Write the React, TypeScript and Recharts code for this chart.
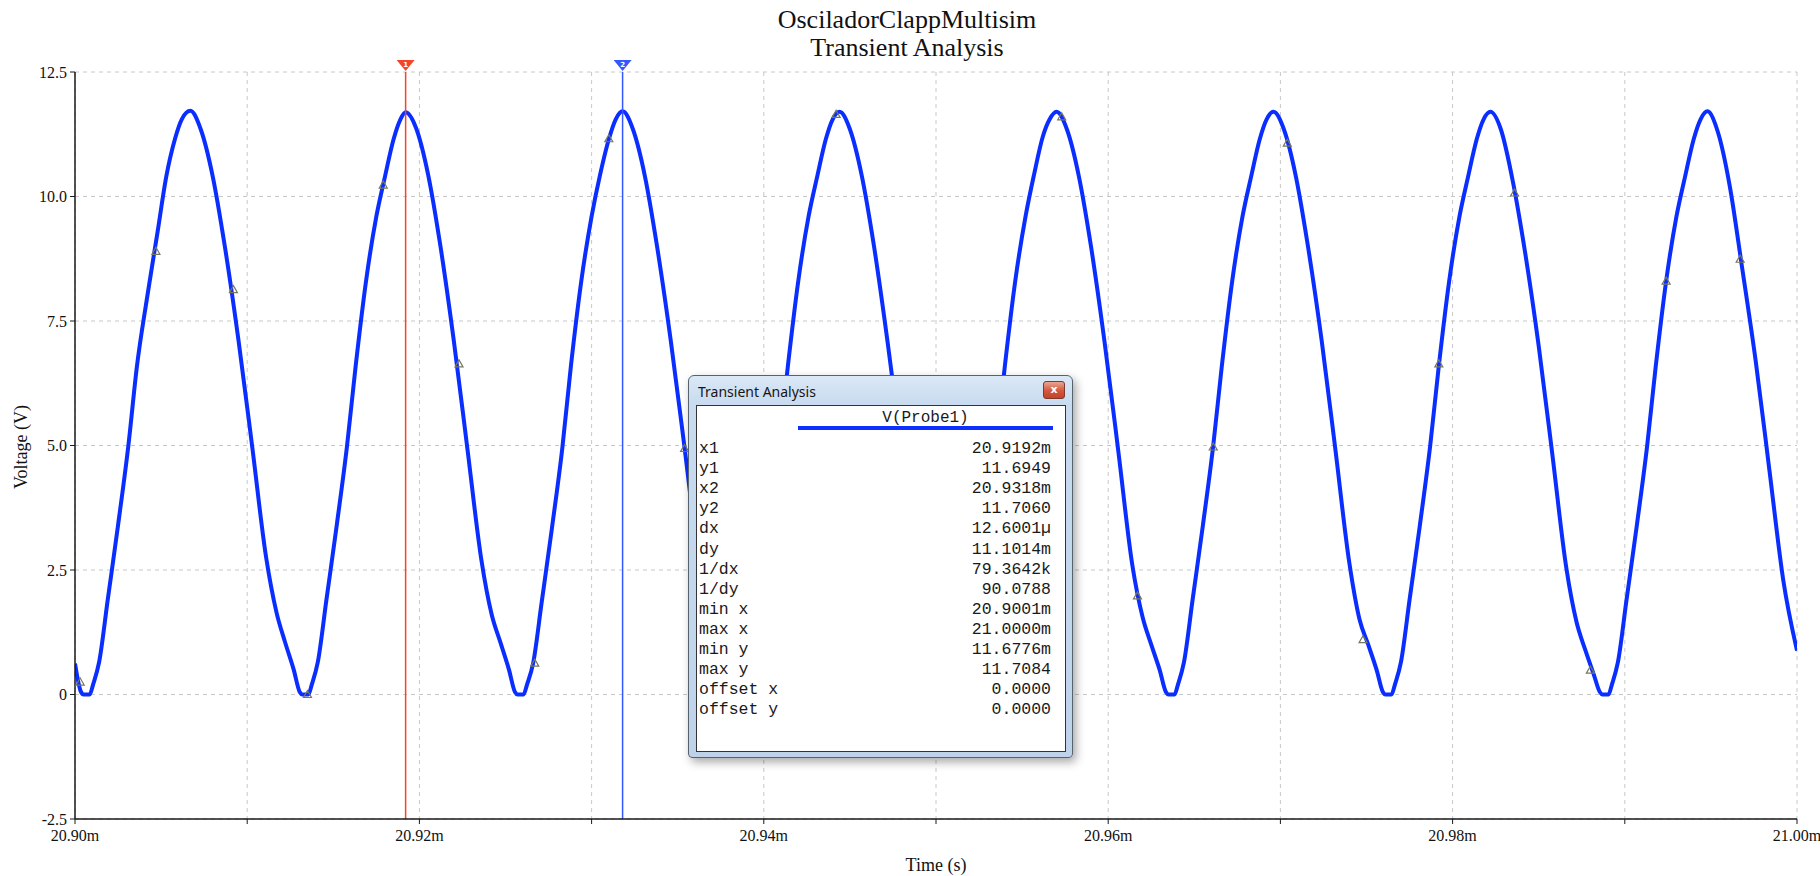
import React from 'react';
import {
  ComposedChart,
  Line,
  Scatter,
  XAxis,
  YAxis,
  CartesianGrid,
  ReferenceLine,
} from 'recharts';

// time in microseconds after 20.90 ms, voltage of V(Probe1) in volts
const timeUs = [
  0, 0.35, 0.5, 0.85, 1.05, 1.4, 1.9, 2.5, 3.1, 3.6, 4.2, 4.8, 5.3, 5.8, 6.2, 6.7,
  7.3, 8.0, 8.7, 9.5, 10.3, 11.1, 11.7, 12.2, 12.7, 13.05, 13.2, 13.55, 13.75, 14.1, 14.6, 15.2, 15.8, 16.3, 16.9, 17.5, 18.0, 18.5, 18.9, 19.2,
  19.8, 20.5, 21.2, 22.0, 22.8, 23.6, 24.2, 24.7, 25.2, 25.55, 25.7, 26.05, 26.25, 26.6, 27.1, 27.7, 28.3, 28.8, 29.4, 30.0, 30.5, 31.0, 31.4, 31.8,
  32.4, 33.1, 33.8, 34.6, 35.4, 36.2, 36.8, 37.3, 37.8, 38.15, 38.3, 38.65, 38.85, 39.2, 39.7, 40.3, 40.9, 41.4, 42.0, 42.6, 43.1, 43.6, 44.0, 44.4,
  45.0, 45.7, 46.4, 47.2, 48.0, 48.8, 49.4, 49.9, 50.4, 50.75, 50.9, 51.25, 51.45, 51.8, 52.3, 52.9, 53.5, 54.0, 54.6, 55.2, 55.7, 56.2, 56.6, 57.0,
  57.6, 58.3, 59.0, 59.8, 60.6, 61.4, 62.0, 62.5, 63.0, 63.35, 63.5, 63.85, 64.05, 64.4, 64.9, 65.5, 66.1, 66.6, 67.2, 67.8, 68.3, 68.8, 69.2, 69.6,
  70.2, 70.9, 71.6, 72.4, 73.2, 74.0, 74.6, 75.1, 75.6, 75.95, 76.1, 76.45, 76.65, 77.0, 77.5, 78.1, 78.7, 79.2, 79.8, 80.4, 80.9, 81.4, 81.8, 82.2,
  82.8, 83.5, 84.2, 85.0, 85.8, 86.6, 87.2, 87.7, 88.2, 88.55, 88.7, 89.05, 89.25, 89.6, 90.1, 90.7, 91.3, 91.8, 92.4, 93.0, 93.5, 94.0, 94.4, 94.8,
  95.4, 96.1, 96.8, 97.6, 98.4, 99.2, 100,
];

const probeV = [
  0.62, 0.05, 0, 0, 0.2, 0.65, 1.9, 3.4, 5.0, 6.6, 8.0, 9.3, 10.4, 11.15, 11.55, 11.72,
  11.35, 10.4, 9.0, 7.1, 4.95, 2.75, 1.65, 1.05, 0.5, 0.05, 0, 0, 0.2, 0.65, 1.9, 3.4, 5.0, 6.6, 8.3, 9.6, 10.4, 11.15, 11.55, 11.69,
  11.38, 10.45, 9.05, 7.1, 4.9, 2.7, 1.6, 1.05, 0.5, 0.05, 0, 0, 0.2, 0.62, 1.85, 3.35, 4.95, 6.6, 8.3, 9.6, 10.45, 11.15, 11.55, 11.71,
  11.35, 10.4, 9.0, 7.1, 4.95, 2.75, 1.65, 1.05, 0.5, 0.05, 0, 0, 0.2, 0.65, 1.9, 3.4, 5.0, 6.6, 8.3, 9.6, 10.4, 11.15, 11.55, 11.7,
  11.35, 10.4, 9.0, 7.05, 4.9, 2.7, 1.6, 1.05, 0.5, 0.05, 0, 0, 0.2, 0.65, 1.9, 3.4, 5.0, 6.6, 8.3, 9.6, 10.45, 11.2, 11.55, 11.7,
  11.35, 10.4, 9.0, 7.05, 4.85, 2.6, 1.55, 1.0, 0.48, 0.05, 0, 0, 0.2, 0.65, 1.9, 3.4, 5.0, 6.6, 8.3, 9.6, 10.4, 11.15, 11.55, 11.7,
  11.35, 10.4, 9.0, 7.1, 4.9, 2.65, 1.5, 1.0, 0.48, 0.05, 0, 0, 0.2, 0.65, 1.9, 3.4, 5.0, 6.6, 8.3, 9.6, 10.4, 11.15, 11.55, 11.7,
  11.35, 10.3, 8.9, 7.0, 4.8, 2.55, 1.45, 0.9, 0.4, 0.05, 0, 0, 0.2, 0.65, 1.9, 3.4, 5.0, 6.6, 8.3, 9.6, 10.4, 11.15, 11.55, 11.71,
  11.3, 10.2, 8.6, 6.7, 4.5, 2.3, 0.88,
];

// little trace markers Multisim puts on the curve
const markerTimeUs = [0.3, 4.7, 9.2, 13.5, 17.9, 22.3, 26.7, 31.0, 35.4, 44.2, 57.3, 61.7, 66.1, 70.4, 74.8, 79.2, 83.6, 88.0, 92.4, 96.7];
const markerV = [0.25, 8.9, 8.13, 0.0, 10.23, 6.64, 0.63, 11.16, 4.94, 11.65, 11.6, 1.98, 4.97, 11.07, 1.1, 6.64, 10.07, 0.49, 8.3, 8.74];

// cursors x1 / x2
const cursorTimeUs = [19.2, 31.8];
const cursorColors = ['#f4442c', '#3358ff'];

const xTicks = [0, 10, 20, 30, 40, 50, 60, 70, 80, 90, 100];
const yTicks = [-2.5, 0, 2.5, 5, 7.5, 10, 12.5];

const readoutLabels = ['x1', 'y1', 'x2', 'y2', 'dx', 'dy', '1/dx', '1/dy', 'min x', 'max x', 'min y', 'max y', 'offset x', 'offset y'];
const readoutValues = ['20.9192m', '11.6949', '20.9318m', '11.7060', '12.6001\u00b5', '11.1014m', '79.3642k', '90.0788', '20.9001m', '21.0000m', '11.6776m', '11.7084', '0.0000', '0.0000'];

const traceRows = timeUs.map((t, i) => ({ t, v: probeV[i] }));
const markerRows = markerTimeUs.map((t, i) => ({ t, v: markerV[i] }));

const serif = '"Liberation Serif", "Times New Roman", serif';
const mono = '"Liberation Mono", "Courier New", monospace';

function fmtTime(v: number) {
  if (v % 20 !== 0) return '';
  return (20.9 + v / 1000).toFixed(2) + 'm';
}

function fmtVolt(v: number) {
  return v === 0 ? '0' : v.toFixed(1);
}

function CursorFlag(props: any) {
  const { viewBox, color, num } = props;
  if (!viewBox) return null;
  const x = viewBox.x;
  const y = viewBox.y;
  return (
    <g>
      <path d={`M${x - 9},${y - 12} L${x + 9},${y - 12} L${x},${y - 1} Z`} fill={color} />
      <text x={x} y={y - 5} fontSize={7} fill="#fff" textAnchor="middle" fontFamily="DejaVu Sans" fontWeight="bold">
        {num}
      </text>
    </g>
  );
}

function MarkerTriangle(props: any) {
  const { cx, cy } = props;
  if (cx == null || cy == null) return null;
  return (
    <path
      d={`M${cx},${cy - 4} L${cx + 4},${cy + 3} L${cx - 4},${cy + 3} Z`}
      fill="none"
      stroke="#77775e"
      strokeWidth={1.2}
    />
  );
}

function ReadoutDialog() {
  return (
    <div
      style={{
        position: 'absolute',
        left: 688,
        top: 375,
        width: 385,
        height: 383,
        boxSizing: 'border-box',
        border: '1px solid #56636f',
        borderRadius: '6px 6px 4px 4px',
        background: 'linear-gradient(#dbe8f6, #c8dbef 28px, #bed3ea)',
        boxShadow: '3px 4px 10px rgba(0,0,0,0.35)',
      }}
    >
      <div
        style={{
          position: 'absolute',
          left: 9,
          top: 6,
          fontFamily: '"Noto Sans", "Open Sans", sans-serif',
          fontSize: 14,
          color: '#151515',
        }}
      >
        Transient Analysis
      </div>
      <div
        style={{
          position: 'absolute',
          left: 354,
          top: 5,
          width: 22,
          height: 18,
          boxSizing: 'border-box',
          borderRadius: 3,
          border: '1px solid #7d3a2e',
          background: 'linear-gradient(#eaa593, #d3573d 55%, #c34329)',
          color: '#fff',
          fontFamily: 'DejaVu Sans',
          fontWeight: 'bold',
          fontSize: 11,
          lineHeight: '16px',
          textAlign: 'center',
        }}
      >
        x
      </div>
      <div
        style={{
          position: 'absolute',
          left: 7,
          top: 29,
          width: 370,
          height: 347,
          boxSizing: 'border-box',
          border: '1px solid #333',
          background: '#fff',
          fontFamily: mono,
          color: '#1a1a1a',
        }}
      >
        <div
          style={{
            position: 'absolute',
            left: 101,
            width: 255,
            top: 3,
            textAlign: 'center',
            fontSize: 16,
            lineHeight: '18px',
          }}
        >
          V(Probe1)
        </div>
        <div style={{ position: 'absolute', left: 101, width: 255, top: 20, height: 4, background: '#0d2fff' }} />
        {readoutLabels.map((label, i) => (
          <div
            key={label}
            style={{
              position: 'absolute',
              left: 2,
              right: 14,
              top: 33 + i * 20.1,
              height: 20,
              lineHeight: '20px',
              fontSize: 16.5,
              display: 'flex',
              justifyContent: 'space-between',
              whiteSpace: 'pre',
            }}
          >
            <span>{label}</span>
            <span>{readoutValues[i]}</span>
          </div>
        ))}
      </div>
    </div>
  );
}

export default function App() {
  return (
    <div style={{ position: 'absolute', left: 0, top: 0, width: 1820, height: 876, background: '#fff', overflow: 'hidden' }}>
      <ComposedChart width={1820} height={876} margin={{ top: 72, right: 23, bottom: 0, left: 0 }}>
        <CartesianGrid stroke="#c8c8c8" strokeDasharray="4 4" />
        <XAxis
          dataKey="t"
          type="number"
          domain={[0, 100]}
          ticks={xTicks}
          tickFormatter={fmtTime}
          height={57}
          axisLine={{ stroke: '#1a1a1a', strokeWidth: 1.5 }}
          tickLine={{ stroke: '#1a1a1a' }}
          tickSize={5}
          tickMargin={6}
          tick={{ fill: '#111', fontSize: 16, fontFamily: serif }}
          interval={0}
          allowDataOverflow
        />
        <YAxis
          type="number"
          domain={[-2.5, 12.5]}
          ticks={yTicks}
          tickFormatter={fmtVolt}
          width={75}
          axisLine={{ stroke: '#1a1a1a', strokeWidth: 1.5 }}
          tickLine={{ stroke: '#1a1a1a' }}
          tickSize={5}
          tickMargin={3}
          tick={{ fill: '#111', fontSize: 16, fontFamily: serif }}
          interval={0}
          allowDataOverflow
        />
        <Line
          data={traceRows}
          dataKey="v"
          type="monotone"
          stroke="#0a2eff"
          strokeWidth={4}
          dot={false}
          isAnimationActive={false}
        />
        <Scatter data={markerRows} dataKey="v" shape={<MarkerTriangle />} isAnimationActive={false} />
        {cursorTimeUs.map((t, i) => (
          <ReferenceLine
            key={t}
            x={t}
            stroke={cursorColors[i]}
            strokeWidth={1.5}
            label={<CursorFlag color={cursorColors[i]} num={String(i + 1)} />}
          />
        ))}
      </ComposedChart>
      <svg width={1820} height={876} style={{ position: 'absolute', left: 0, top: 0, pointerEvents: 'none' }}>
        <text x={907} y={28} textAnchor="middle" fontFamily={serif} fontSize={26} fill="#111">
          OsciladorClappMultisim
        </text>
        <text x={907} y={56} textAnchor="middle" fontFamily={serif} fontSize={26} fill="#111">
          Transient Analysis
        </text>
        <text x={936} y={871} textAnchor="middle" fontFamily={serif} fontSize={18} fill="#111">
          Time (s)
        </text>
        <text
          x={27}
          y={447}
          textAnchor="middle"
          fontFamily={serif}
          fontSize={18}
          fill="#111"
          transform="rotate(-90 27 447)"
        >
          Voltage (V)
        </text>
      </svg>
      <ReadoutDialog />
    </div>
  );
}
